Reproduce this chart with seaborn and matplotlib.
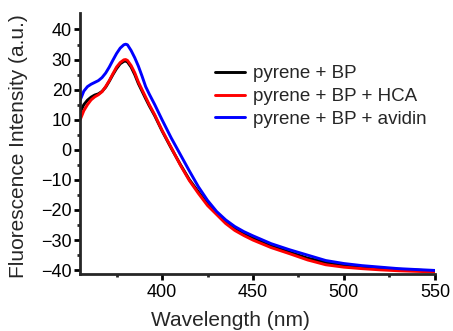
import pandas as pd
import matplotlib.pyplot as plt
import seaborn as sns

# wavelength grid (nm)
wavelength = [355, 357, 359, 361, 363, 365, 367, 369, 371, 373, 375, 377, 379, 380,
              381, 383, 385, 387, 389, 391, 393, 396, 400, 405, 410, 415, 420, 425,
              430, 435, 440, 445, 450, 460, 470, 480, 490, 500, 510, 520, 530, 540, 550]

# fluorescence intensity (a.u.) per sample
bp = [12.5, 15, 16.5, 17.5, 18.2, 18.6, 19.4, 20.8, 22.8, 25, 27, 28.6, 29.4, 29.5,
      29.2, 27.5, 25, 22, 19.5, 17, 14.6, 11.3, 6.3, 0.6, -4.8, -9.9, -14, -18,
      -21, -24, -26.2, -28, -29.4, -32, -34, -36, -37.4, -38.3, -38.8, -39.3, -39.7, -40, -40.3]
bp_hca = [10, 13, 15, 16.6, 17.6, 18.3, 19.3, 21, 23, 25.3, 27.5, 29, 29.9, 30,
          29.7, 28, 25.6, 22.5, 20, 17.5, 15, 11.6, 6.5, 0.8, -5, -10.2, -14.5, -18.5,
          -21.5, -24.5, -26.8, -28.5, -30, -32.5, -34.5, -36.6, -38.2, -39, -39.5, -39.9, -40.2, -40.4, -40.6]
bp_avidin = [16.5, 19.5, 21, 21.8, 22.4, 23, 24, 25.5, 27.5, 29.8, 32, 33.8, 34.9, 35.1,
             34.9, 33, 30.6, 27.8, 24.5, 21, 18.5, 15, 10, 4, -1.5, -7, -12.3, -16.8,
             -20.5, -23.3, -25.5, -27.2, -28.6, -31.2, -33.2, -35, -36.8, -37.8, -38.5, -39, -39.5, -39.8, -40.1]

labels = ["pyrene + BP", "pyrene + BP + HCA", "pyrene + BP + avidin"]
colors = ["black", "red", "blue"]

frames = []
for lab, vals in zip(labels, [bp, bp_hca, bp_avidin]):
    frames.append(pd.DataFrame({"Wavelength": wavelength, "Intensity": vals, "Sample": lab}))
df = pd.concat(frames, ignore_index=True)

sns.set_style("ticks")
plt.rcParams["font.family"] = ["Liberation Sans", "DejaVu Sans"]

fig = plt.figure(figsize=(4.53, 3.31), dpi=100)
ax = fig.add_axes([0.177, 0.172, 0.783, 0.789])

sns.lineplot(data=df, x="Wavelength", y="Intensity", hue="Sample",
             palette=dict(zip(labels, colors)), linewidth=2.1, ax=ax)

ax.set_xlim(355, 550)
ax.set_ylim(-41.3, 45.5)
ax.set_xticks([400, 450, 500, 550])
ax.set_xticks([375, 425, 475, 525], minor=True)
ax.set_yticks(range(-40, 41, 10))
ax.set_yticks(range(-35, 41, 10), minor=True)

sns.despine(ax=ax)
for s in ["left", "bottom"]:
    ax.spines[s].set_linewidth(2.0)
ax.tick_params(which="major", length=4, width=2.0, labelsize=13, colors="black", pad=2)
ax.tick_params(axis="x", which="major", pad=3)
ax.tick_params(which="minor", length=2.5, width=2.0)

ax.set_xlabel("Wavelength (nm)", fontsize=15)
ax.set_ylabel("Fluorescence Intensity (a.u.)", fontsize=15)
ax.xaxis.set_label_coords(0.423, -0.14)
ax.yaxis.set_label_coords(-0.148, 0.49)

leg = ax.legend(loc="upper left", bbox_to_anchor=(0.36, 0.828), frameon=False,
                fontsize=13.5, handlelength=1.6, handletextpad=0.4, labelspacing=0.3,
                borderaxespad=0)

fig.savefig("out.png", dpi=100)
